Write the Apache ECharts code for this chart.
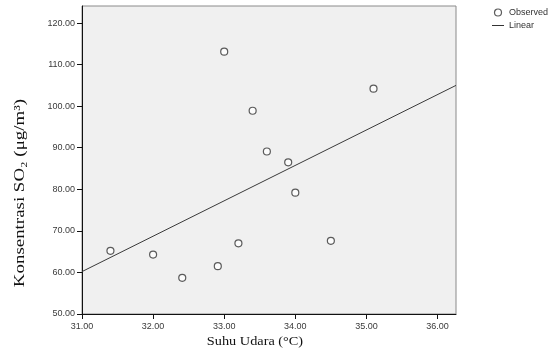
<!DOCTYPE html>
<html>
<head>
<meta charset="utf-8">
<script src="https://cdn.jsdelivr.net/npm/echarts@6/dist/echarts.min.js"></script>
<style>html,body{margin:0;padding:0;background:#fff;}#c{width:556px;height:360px;}</style>
</head>
<body>
<div id="c"></div>
<script>
// Observed data
const suhuUdara = [31.40, 32.00, 32.41, 32.91, 33.20, 33.00, 33.40, 33.60, 33.90, 34.00, 34.50, 35.10];
const konsentrasiSO2 = [65.2, 64.3, 58.7, 61.5, 67.0, 113.1, 98.9, 89.1, 86.5, 79.2, 67.6, 104.2];
// Linear fit line endpoints
const linearX = [31.00, 36.26];
const linearY = [60.2, 105.0];
// Axis ranges / tick labels
const xTickLabels = ['31.00', '32.00', '33.00', '34.00', '35.00', '36.00'];
const yTickLabels = ['50.00', '60.00', '70.00', '80.00', '90.00', '100.00', '110.00', '120.00'];
const xRange = [31, 36.26];
const yRange = [50, 124.1];
const xTitle = 'Suhu Udara (\u00B0C)';
const yTitle = 'Konsentrasi SO\u2082 (\u03BCg/m\u00B3)';

const observed = suhuUdara.map((x, i) => [x, konsentrasiSO2[i]]);
const linear = linearX.map((x, i) => [x, linearY[i]]);

const chart = echarts.init(document.getElementById('c'), null, {renderer: 'canvas'});
const labelFont = {fontFamily: '"Liberation Sans", Arial, sans-serif', fontSize: 9, color: '#3a3a3a'};
chart.setOption({
  animation: false,
  backgroundColor: '#fff',
  grid: {
    left: 82, right: 100, top: 6, bottom: 46,
    show: true, backgroundColor: '#F0F0F0', borderColor: '#8a8a8a', borderWidth: 1,
    outerBoundsMode: 'none'
  },
  legend: {
    orient: 'vertical', left: 492, top: 8,
    itemWidth: 12, itemHeight: 7, itemGap: 4, padding: 0,
    textStyle: {fontFamily: '"Liberation Sans", Arial, sans-serif', fontSize: 9, color: '#333'},
    data: [
      {name: 'Observed', icon: 'circle', itemStyle: {color: '#fff', borderColor: '#333', borderWidth: 1.2}},
      {name: 'Linear', icon: 'path://M0,0M0,3H12V4H0ZM12,7', itemStyle: {color: '#333', borderWidth: 0}}
    ]
  },
  xAxis: {
    type: 'value', min: xRange[0], max: xRange[1], interval: 1,
    axisLine: {show: true, lineStyle: {color: '#111', width: 1}},
    axisTick: {show: true, length: 5, lineStyle: {color: '#111'}},
    splitLine: {show: false},
    axisLabel: Object.assign({margin: 8, showMaxLabel: false,
      formatter: v => xTickLabels[Math.round(v - xRange[0])] || ''}, labelFont)
  },
  yAxis: {
    type: 'value', min: yRange[0], max: yRange[1], interval: 10,
    axisLine: {show: true, lineStyle: {color: '#111', width: 1}},
    axisTick: {show: true, length: 5, lineStyle: {color: '#111'}},
    splitLine: {show: false},
    axisLabel: Object.assign({margin: 7, showMaxLabel: false,
      formatter: v => yTickLabels[Math.round((v - yRange[0]) / 10)] || ''}, labelFont)
  },
  graphic: [
    {type: 'text', x: 20, y: 193, rotation: Math.PI / 2, scaleX: 1.35,
     style: {text: yTitle, font: '14px "Liberation Serif", "DejaVu Serif", serif', fill: '#111',
             textAlign: 'center', textVerticalAlign: 'middle', align: 'center', verticalAlign: 'middle'}},
    {type: 'text', x: 255, y: 342, scaleX: 1.1,
     style: {text: xTitle, font: '13px "Liberation Serif", "DejaVu Serif", serif', fill: '#111',
             textAlign: 'center', textVerticalAlign: 'middle', align: 'center', verticalAlign: 'middle'}}
  ],
  series: [
    {name: 'Observed', type: 'scatter', data: observed, symbol: 'circle', symbolSize: 7,
     itemStyle: {color: '#fff', borderColor: '#333', borderWidth: 1.2}, z: 3},
    {name: 'Linear', type: 'line', data: linear, symbol: 'none', showSymbol: false,
     lineStyle: {color: '#3a3a3a', width: 1}, itemStyle: {color: '#3a3a3a'}, z: 2}
  ]
});
</script>
</body>
</html>
